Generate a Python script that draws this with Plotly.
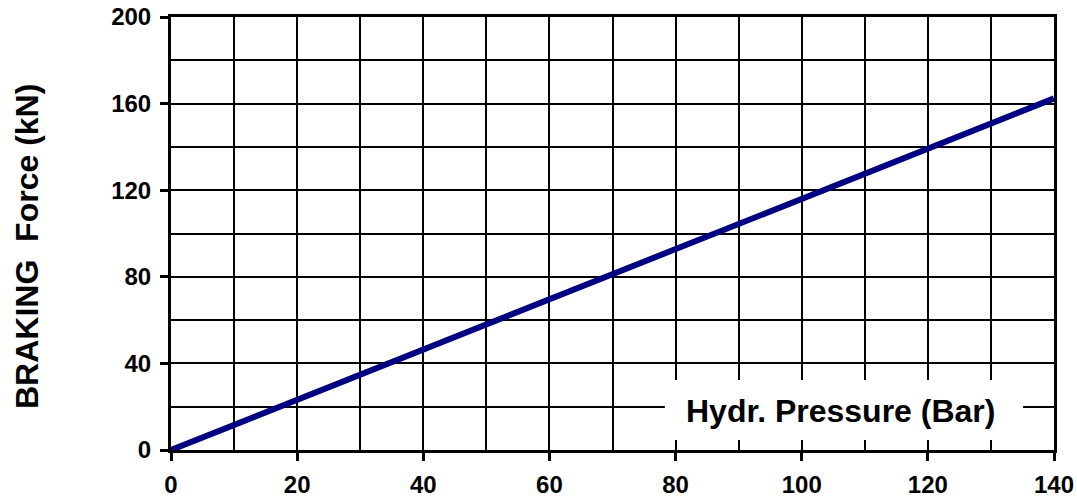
import plotly.graph_objects as go

pressure_bar = [0, 20, 40, 60, 80, 100, 120, 140]
braking_force_kn = [0, 23.2, 46.4, 69.6, 92.8, 116.0, 139.2, 162.4]

x_title = "Hydr. Pressure (Bar)"
y_title = "BRAKING  Force (kN)"

FONT = "Liberation Sans, Arial, sans-serif"

fig = go.Figure()
fig.add_trace(go.Scatter(
    x=pressure_bar, y=braking_force_kn, mode="lines",
    line=dict(color="#000080", width=6), showlegend=False,
))

fig.update_layout(
    width=1077, height=501,
    margin=dict(l=171, r=23, t=17, b=51, autoexpand=False),
    paper_bgcolor="white", plot_bgcolor="white",
    font=dict(family=FONT, color="black"),
)

fig.update_xaxes(
    range=[0, 140], dtick=20, tick0=0, automargin=False,
    showgrid=True, gridcolor="black", gridwidth=2,
    minor=dict(dtick=10, showgrid=True, gridcolor="black", gridwidth=2),
    showline=True, linecolor="black", linewidth=3, mirror=True,
    ticks="outside", ticklen=8, tickwidth=3, tickcolor="black",
    tickfont=dict(family=FONT, size=24, color="black", weight="bold"),
    ticklabelstandoff=3, ticklabeloverflow="allow", zeroline=False,
)
fig.update_yaxes(
    range=[0, 200], dtick=40, tick0=0, automargin=False,
    showgrid=True, gridcolor="black", gridwidth=2,
    minor=dict(dtick=20, showgrid=True, gridcolor="black", gridwidth=2),
    showline=True, linecolor="black", linewidth=3, mirror=True,
    ticks="outside", ticklen=8, tickwidth=3, tickcolor="black",
    tickfont=dict(family=FONT, size=24, color="black", weight="bold"),
    ticklabelstandoff=4, ticklabeloverflow="allow", zeroline=False,
)

# white box behind the in-plot x-axis title
fig.add_shape(type="rect", xref="x", yref="y", x0=78.3, x1=135.1, y0=4.6, y1=32.3,
              fillcolor="white", line=dict(width=0), layer="between")

fig.add_annotation(x=106.1, y=18, xref="x", yref="y", text=x_title, showarrow=False,
                   font=dict(family=FONT, size=32, color="black", weight="bold"))
fig.add_annotation(x=-0.1625, y=0.47, xref="paper", yref="paper", text=y_title,
                   textangle=-90, showarrow=False, xanchor="center", yanchor="middle",
                   font=dict(family=FONT, size=32, color="black", weight="bold"))

# remove the browser's default body margin so the figure fills the window exactly
fig.write_html("out.html", config={"displayModeBar": False},
               post_script="document.body.style.margin='0';")
